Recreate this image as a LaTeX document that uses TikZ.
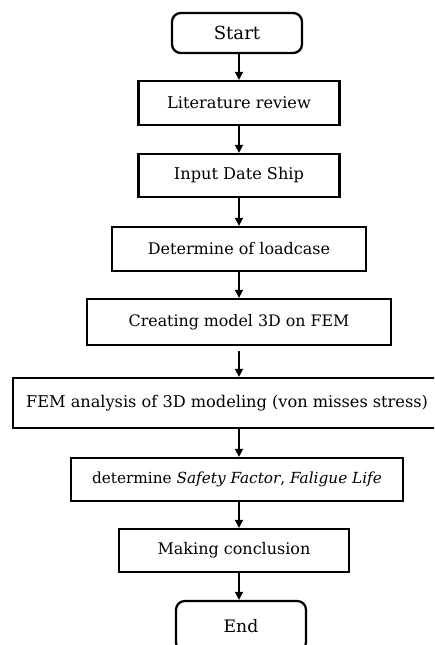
\documentclass[tikz,border=0pt]{standalone}
\usepackage{fontspec}
\setmainfont{DejaVu Serif}
\usetikzlibrary{arrows.meta}

\begin{document}
\begin{tikzpicture}[->,>={Triangle[length=4.5pt,width=4.5pt]},line width=0.9pt,
  box/.style={draw=black,line width=1.3pt,inner sep=0pt,font=\fontsize{9.2}{11}\selectfont},
  term/.style={box,rounded corners=5pt,font=\fontsize{10.3}{12}\selectfont}]
\useasboundingbox (0,0) rectangle (8.68,-12.9);
\clip (0,0) rectangle (8.68,-12.9);
\node[term,minimum width=2.6cm,minimum height=0.8cm] (start) at (4.74,-0.66) {Start};
\node[box,minimum width=4.02cm,minimum height=0.88cm] (lit) at (4.78,-2.06) {Literature review};
\node[box,minimum width=4.02cm,minimum height=0.86cm] (input) at (4.78,-3.51) {Input Date Ship};
\node[box,minimum width=5.08cm,minimum height=0.88cm,font=\fontsize{9.1}{11}\selectfont] (load) at (4.78,-4.98) {Determine of loadcase};
\node[box,minimum width=6.08cm,minimum height=0.92cm,font=\fontsize{9}{11}\selectfont] (model) at (4.78,-6.44) {Creating model 3D on FEM};
\node[box,minimum width=8.56cm,minimum height=1.0cm,font=\fontsize{9.2}{11}\selectfont] (fem) at (4.54,-8.06) {FEM analysis of 3D modeling (von misses stress)};
\node[box,minimum width=6.64cm,minimum height=0.86cm,font=\fontsize{8.7}{10}\selectfont] (safety) at (4.74,-9.59) {determine \textit{Safety Factor}, \textit{Faligue Life}};
\node[box,minimum width=4.6cm,minimum height=0.86cm,font=\fontsize{9.1}{11}\selectfont] (concl) at (4.68,-11.01) {Making conclusion};
\node[term,minimum width=2.6cm,minimum height=1.0cm,font=\fontsize{9.8}{11}\selectfont] (end) at (4.82,-12.52) {End};
% arrows down the chain
\path (start.south -| lit) edge (lit);
\path (lit) edge (input);
\path (input) edge (load);
\path (load) edge (model);
\path (model) edge[shorten <=3pt] (model |- fem.north);
\path (fem.south -| model) edge (model |- safety.north);
\path (safety.south -| model) edge (model |- concl.north);
\path (concl.south -| model) edge (model |- end.north);
\end{tikzpicture}
\end{document}
